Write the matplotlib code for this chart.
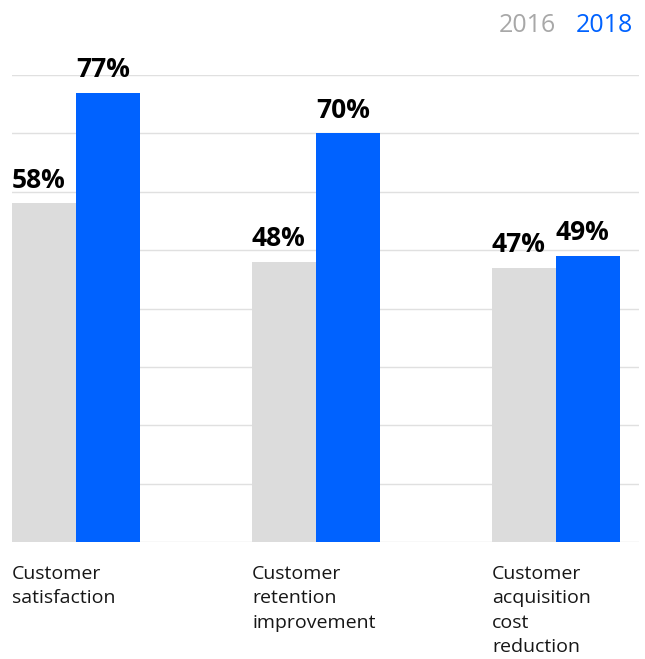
import matplotlib.pyplot as plt

categories = ["Customer\nsatisfaction", "Customer\nretention\nimprovement",
              "Customer\nacquisition\ncost\nreduction"]
years = ["2016", "2018"]
values_2016 = [58, 48, 47]
values_2018 = [77, 70, 49]

gray = "#dcdcdc"
blue = "#0062ff"
plt.rcParams["font.family"] = ["Open Sans", "DejaVu Sans"]

fig = plt.figure(figsize=(6.45, 6.59), dpi=100)
ax = fig.add_axes([12 / 645, 117 / 659, 627 / 645, 467 / 659])

w = 64 / 240
xs = list(range(len(categories)))
ax.bar([x for x in xs], values_2016, width=w, align="edge", color=gray, zorder=2)
ax.bar([x + w for x in xs], values_2018, width=w, align="edge", color=blue, zorder=2)

# value labels, left aligned to each bar
for x, v in zip(xs, values_2016):
    ax.annotate(f"{v}%", (x, v), xytext=(0, 7), textcoords="offset points",
                ha="left", va="bottom", fontsize=19, fontweight="bold")
for x, v in zip(xs, values_2018):
    ax.annotate(f"{v}%", (x + w, v), xytext=(0, 7), textcoords="offset points",
                ha="left", va="bottom", fontsize=19, fontweight="bold")

# category labels under the axis
for x, c in zip(xs, categories):
    ax.annotate(c, (x, 0), xytext=(0, -16.5), textcoords="offset points",
                ha="left", va="top", fontsize=14, linespacing=1.46,
                color="#161616")

ax.set_xlim(0, 627 / 240)
ax.set_ylim(0, 80)
ax.set_yticks(range(0, 81, 10))
ax.grid(axis="y", color="#e0e0e0", linewidth=1, zorder=0)
ax.set_xticks([])
ax.tick_params(axis="y", length=0, labelleft=False)
for s in ax.spines.values():
    s.set_visible(False)

# legend as coloured year labels
fig.text(633 / 645, 1 - 25 / 659, years[1], color=blue, fontsize=18,
         ha="right", va="center")
fig.text(556 / 645, 1 - 25 / 659, years[0], color="#a8a8a8", fontsize=18,
         ha="right", va="center")

fig.savefig("out.png", dpi=100)
